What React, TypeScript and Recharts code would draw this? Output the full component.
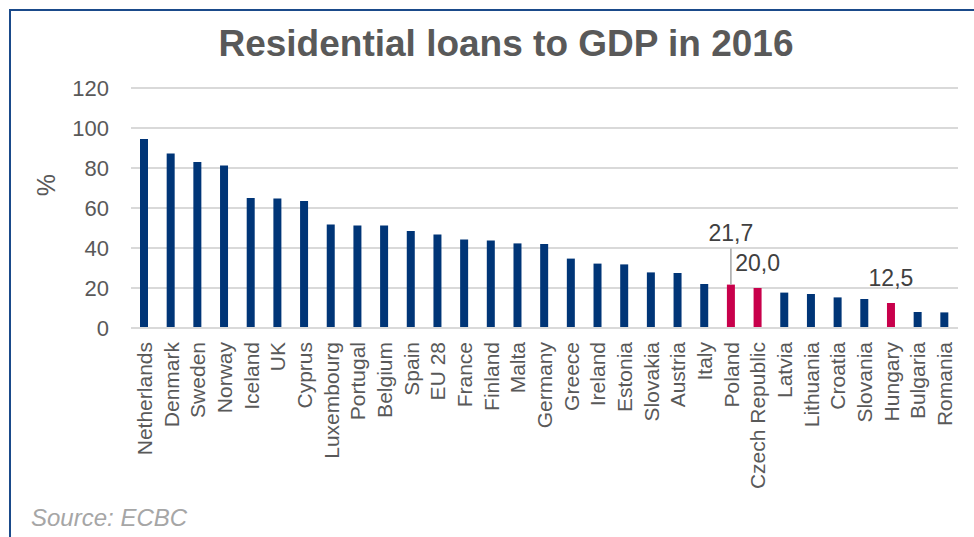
import React from "react";
import { BarChart, Bar, XAxis, YAxis, CartesianGrid, Cell, LabelList } from "recharts";

const categories = [
  "Netherlands", "Denmark", "Sweden", "Norway", "Iceland", "UK", "Cyprus", "Luxembourg",
  "Portugal", "Belgium", "Spain", "EU 28", "France", "Finland", "Malta", "Germany",
  "Greece", "Ireland", "Estonia", "Slovakia", "Austria", "Italy", "Poland", "Czech Republic",
  "Latvia", "Lithuania", "Croatia", "Slovania", "Hungary", "Bulgaria", "Romania",
];

const values = [
  94.5, 87.3, 83.0, 81.3, 65.0, 64.8, 63.5, 51.8,
  51.2, 51.2, 48.5, 46.8, 44.3, 43.7, 42.3, 42.0,
  34.7, 32.2, 31.8, 27.8, 27.5, 22.0, 21.7, 20.0,
  17.7, 17.0, 15.3, 14.5, 12.5, 8.0, 7.8,
];

const highlighted = ["Poland", "Czech Republic", "Hungary"];
const yTicks = [0, 20, 40, 60, 80, 100, 120];

const NAVY = "#003577";
const CRIMSON = "#c8004b";
const FONT = "'Liberation Sans', Arial, sans-serif";

const data = categories.map((name, i) => ({
  name,
  value: values[i],
  label: highlighted.includes(name) ? values[i].toFixed(1).replace(".", ",") : "",
}));

const XTick = (props: any) => {
  const { x, y, payload } = props;
  return (
    <text
      transform={`translate(${x},${y + 6}) rotate(-90)`}
      textAnchor="end"
      dominantBaseline="central"
      fill="#595959"
      fontSize={21}
      fontFamily={FONT}
    >
      {payload.value}
    </text>
  );
};

const renderLabel = (props: any) => {
  const { x, y, width, value, index } = props;
  if (!value) return null;
  const cx = Number(x) + Number(width) / 2;
  const top = Number(y);
  const raised = categories[index] === "Poland";
  if (raised) {
    return (
      <g>
        <line x1={cx} x2={cx} y1={top - 36} y2={top} stroke="#a6a6a6" strokeWidth={1.5} />
        <text x={cx} y={top - 44} textAnchor="middle" fill="#404040" fontSize={23} fontFamily={FONT}>
          {value}
        </text>
      </g>
    );
  }
  return (
    <text x={cx} y={top - 17} textAnchor="middle" fill="#404040" fontSize={23} fontFamily={FONT}>
      {value}
    </text>
  );
};

export default function App() {
  return (
    <div
      style={{
        position: "fixed",
        left: 0,
        top: 0,
        width: 974,
        height: 537,
        overflow: "hidden",
        background: "#fff",
        fontFamily: FONT,
      }}
    >
      <div style={{ position: "absolute", left: 0, top: 0 }}>
        <BarChart
          width={974}
          height={537}
          data={data}
          margin={{ top: 88, right: 16, bottom: 0, left: 0 }}
          barSize={8}
        >
          <CartesianGrid vertical={false} stroke="#d9d9d9" strokeWidth={2} />
          <XAxis
            dataKey="name"
            interval={0}
            height={209}
            tickLine={false}
            axisLine={{ stroke: "#d9d9d9", strokeWidth: 2 }}
            tick={<XTick />}
          />
          <YAxis
            domain={[0, 120]}
            ticks={yTicks}
            width={131}
            tickLine={false}
            axisLine={false}
            tickMargin={16}
            tick={{ fill: "#595959", fontSize: 22, fontFamily: FONT }}
          />
          <Bar dataKey="value" isAnimationActive={false}>
            {data.map((d) => (
              <Cell key={d.name} fill={highlighted.includes(d.name) ? CRIMSON : NAVY} />
            ))}
            <LabelList dataKey="label" content={renderLabel} />
          </Bar>
        </BarChart>
      </div>
      <div
        style={{
          position: "absolute",
          left: 0,
          top: 25,
          width: 1012,
          textAlign: "center",
          fontSize: 37,
          lineHeight: "37px",
          fontWeight: "bold",
          color: "#595959",
          whiteSpace: "nowrap",
        }}
      >
        Residential loans to GDP in 2016
      </div>
      <div
        style={{
          position: "absolute",
          left: 33,
          top: 172,
          width: 26,
          height: 26,
          fontSize: 25,
          lineHeight: "26px",
          color: "#595959",
          transform: "rotate(-90deg)",
          textAlign: "center",
        }}
      >
        %
      </div>
      <div
        style={{
          position: "absolute",
          left: 31,
          top: 504,
          fontSize: 24,
          lineHeight: "28px",
          fontStyle: "italic",
          color: "#a6a6a6",
          whiteSpace: "nowrap",
        }}
      >
        Source: ECBC
      </div>
      <div
        style={{
          position: "absolute",
          left: 9,
          top: 9,
          width: 1000,
          height: 600,
          borderTop: "2px solid #1a4a8a",
          borderLeft: "2px solid #1a4a8a",
        }}
      />
    </div>
  );
}
